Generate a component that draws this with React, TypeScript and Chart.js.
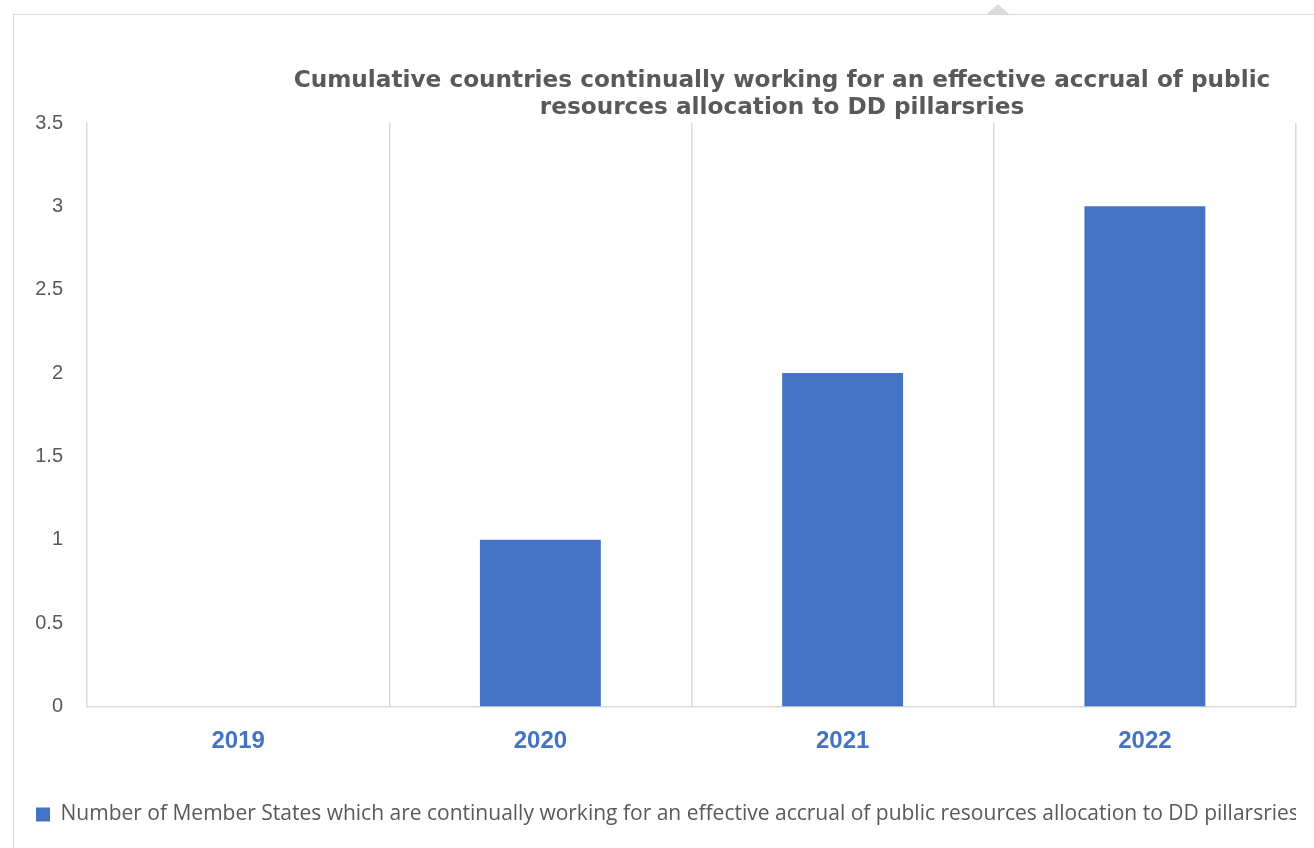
import React, { useEffect, useRef } from "react";
import { Chart, registerables } from "chart.js";

Chart.register(...registerables);

const categories = ["2019", "2020", "2021", "2022"];
const seriesValues = [0, 1, 2, 3];
const seriesLabel =
  "Number of Member States which are continually working for an effective accrual of public resources allocation to DD pillarsries";
const titleLines = [
  "Cumulative countries continually working for an effective accrual of public",
  "resources allocation to DD pillarsries",
];
const yMin = 0;
const yMax = 3.5;
const yStep = 0.5;

const BLUE = "#4472C4";
const GREY = "#595959";
const GRID = "#d9d9d9";

const titlePlugin = {
  id: "customTitle",
  afterDraw(chart: any) {
    const ctx = chart.ctx;
    ctx.save();
    ctx.fillStyle = GREY;
    ctx.font = "bold 23.2px 'DejaVu Sans'";
    ctx.textAlign = "center";
    ctx.textBaseline = "middle";
    ctx.fillText(titleLines[0], 782, 81);
    ctx.fillText(titleLines[1], 782, 108);
    ctx.restore();
  },
};

export default function App() {
  const ref = useRef<HTMLCanvasElement | null>(null);
  useEffect(() => {
    if (!ref.current) return;
    const chart = new Chart(ref.current, {
      type: "bar",
      data: {
        labels: categories,
        datasets: [
          {
            label: seriesLabel,
            data: seriesValues,
            backgroundColor: BLUE,
            categoryPercentage: 1,
            barPercentage: 0.4,
          },
        ],
      },
      options: {
        animation: false,
        responsive: true,
        maintainAspectRatio: false,
        layout: { padding: { top: 123, left: 26, right: 18, bottom: 13 } },
        plugins: {
          title: { display: false },
          tooltip: { enabled: false },
          legend: {
            position: "bottom",
            align: "start",
            labels: {
              boxWidth: 14,
              boxHeight: 14,
              padding: 10,
              color: GREY,
              font: { family: "'Open Sans', sans-serif", size: 21 },
            },
          },
        },
        scales: {
          x: {
            grid: { display: true, color: GRID, lineWidth: 1.5, drawTicks: false, offset: true },
            border: { display: true, color: GRID, width: 1.5 },
            ticks: {
              color: BLUE,
              padding: 20,
              font: { family: "'Liberation Sans', Arial, sans-serif", size: 24, weight: "bold" },
            },
            afterFit: (s: any) => {
              s.height = 87.5;
            },
          },
          y: {
            min: yMin,
            max: yMax,
            grid: { display: false, drawTicks: false },
            border: { display: false },
            ticks: {
              stepSize: yStep,
              color: GREY,
              padding: 24,
              font: { family: "'Liberation Sans', Arial, sans-serif", size: 20 },
              callback: (v: any) => String(Number(v)),
            },
            afterFit: (s: any) => {
              s.width = 61;
            },
          },
        },
      },
      plugins: [titlePlugin],
    });
    return () => chart.destroy();
  }, []);

  return (
    <div style={{ position: "fixed", left: 0, top: 0, width: 1314, height: 848, overflow: "hidden", background: "#fff" }}>
      <div
        style={{
          position: "absolute",
          left: 13,
          top: 14,
          width: 1400,
          height: 900,
          border: "1.5px solid #d9d9d9",
        }}
      />
      <div
        style={{
          position: "absolute",
          left: 987,
          top: 4,
          width: 0,
          height: 0,
          borderLeft: "11px solid transparent",
          borderRight: "11px solid transparent",
          borderBottom: "10px solid #dcdcdc",
        }}
      />
      <div style={{ position: "absolute", left: 0, top: 0, width: 1314, height: 848 }}>
        <canvas ref={ref} />
      </div>
    </div>
  );
}
